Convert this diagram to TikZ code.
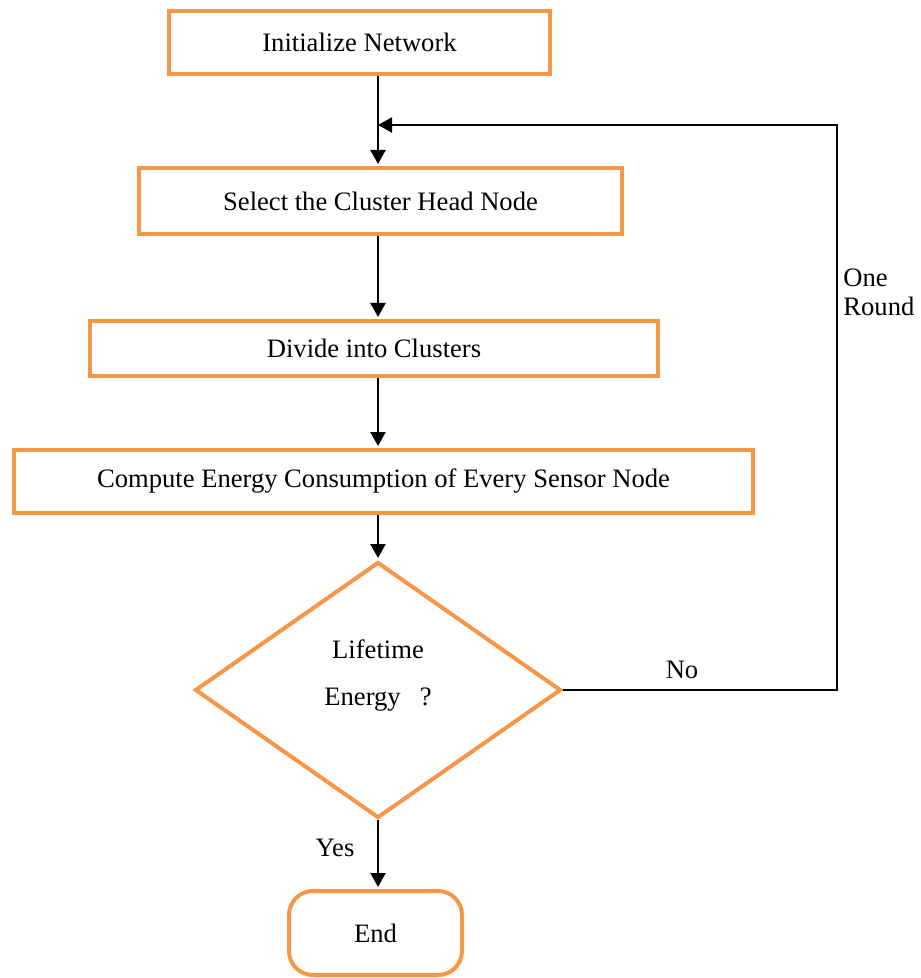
\documentclass[tikz,border=0pt]{standalone}
\usepackage{fontspec}
\setmainfont{Liberation Serif}
\usetikzlibrary{arrows.meta,shapes.geometric}
\definecolor{boxedge}{HTML}{F79646}

\begin{document}
\begin{tikzpicture}[
  x=0.5pt, y=-0.5pt,
  font=\fontsize{13.3}{14.5}\selectfont,
  >={Triangle[length=7pt,width=7.5pt]},
  stage/.style={rectangle, draw=boxedge, line width=2pt, align=center, inner sep=0pt},
  decision/.style={diamond, draw=boxedge, line width=2pt, inner sep=0pt,
                   minimum width=183pt, minimum height=128pt},
  term/.style={stage, rounded corners=12pt},
  flow/.style={->, draw=black, line width=1.1pt, shorten >=1pt},
  ann/.style={inner sep=0pt},
]
\useasboundingbox (0,0) rectangle (920,978);

% ---- main vertical spine ----
\node[stage, minimum width=190.5pt, minimum height=31.5pt] (init) at (359.5,42.5) {Initialize Network};
\node[stage, minimum width=241.5pt, minimum height=33pt] (sel) at (380.5,201) {Select the Cluster Head Node};
\node[stage, minimum width=284pt, minimum height=27.5pt] (div) at (374,348.5) {Divide into Clusters};
\node[stage, minimum width=369.5pt, minimum height=31.5pt] (comp) at (383.5,481.5)
  {Compute Energy Consumption of Every Sensor Node};
\node[decision] (chk) at (378,690) {};
\node[align=center, ann] (chktxt) at (378,675) {Lifetime\\[9pt]Energy\hspace{9.5pt}?};
\node[term, minimum width=86.5pt, minimum height=42pt] (fin) at (375.5,933) {End};

% ---- branch labels ----
\node[ann] (no) at (682,670) {No};
\node[ann, anchor=north west, align=left] (rnd) at (843,268) {One\\Round};
\node[ann] (yes) at (335,848) {Yes};

% ---- flow edges ----
\coordinate (loopin) at (378,125);
\coordinate (loopcnr) at (837,125);
\draw[flow] (init.south -| loopin) -- (sel.north -| loopin);
\draw[flow] (sel.south -| loopin) -- (div.north -| loopin);
\draw[flow] (div.south -| chk) -- (comp.north -| chk);
\draw[flow] (comp.south -| chk) -- (chk.north);
\draw[flow] (chk.south) -- (fin.north -| chk);
\draw[flow, shorten >=0pt] (chk.east) -- (chk.east -| loopcnr) -- (loopcnr) -- (loopin);
\end{tikzpicture}
\end{document}
